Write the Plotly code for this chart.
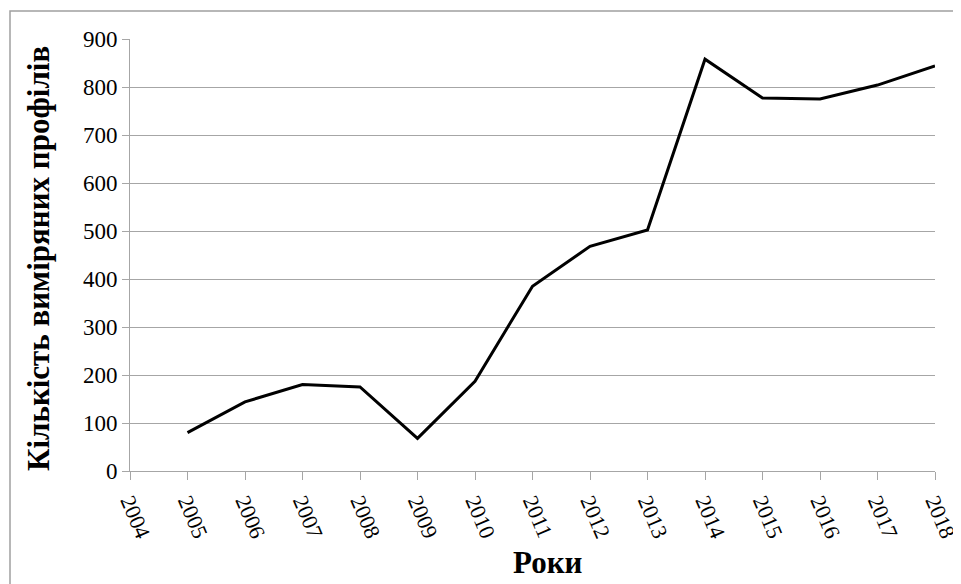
import plotly.graph_objects as go

years = [2005, 2006, 2007, 2008, 2009, 2010, 2011, 2012, 2013, 2014, 2015, 2016, 2017, 2018]
profiles = [80, 144, 180, 175, 68, 187, 385, 468, 502, 858, 777, 775, 804, 844]
x_ticks = list(range(2004, 2019))
y_ticks = list(range(0, 1000, 100))

OFF = 8  # page body margin offset
W, H = 961 - OFF, 584 - OFF
L, R, T, B = 130 - OFF, 935 - OFF, 39 - OFF, 471 - OFF

fig = go.Figure()
fig.add_trace(go.Scatter(x=years, y=profiles, mode="lines",
                         line=dict(color="black", width=3), showlegend=False))

font = "Liberation Serif, Times New Roman, serif"
grid = "#a6a6a6"

def px(x):
    return (x - OFF - L) / (R - L)

def py(y):
    return (B - (y - OFF)) / (B - T)

fig.update_layout(
    width=W, height=H,
    margin=dict(l=L, r=W - R, t=T, b=H - B, pad=0, autoexpand=False),
    paper_bgcolor="white", plot_bgcolor="white",
    font=dict(family=font, color="black", size=23),
    xaxis=dict(range=[2004, 2018], tickvals=x_ticks, ticktext=[str(v) for v in x_ticks],
               tickangle=67, showgrid=False, zeroline=False, automargin=False,
               ticklabeloverflow="allow",
               showline=True, linecolor=grid, linewidth=1,
               ticks="outside", ticklen=8, tickcolor=grid,
               tickfont=dict(family=font, size=22, color="black")),
    yaxis=dict(range=[0, 900], tickvals=y_ticks, showgrid=True, gridcolor=grid, gridwidth=1,
               zeroline=False, showline=True, linecolor=grid, linewidth=1, automargin=False,
               ticklabeloverflow="allow",
               ticks="outside", ticklen=7, tickcolor=grid,
               tickfont=dict(family=font, size=23, color="black")),
    shapes=[dict(type="rect", xref="paper", yref="paper",
                 x0=px(10), x1=px(975), y0=py(600), y1=py(11),
                 line=dict(color="#a0a0a0", width=1.5), fillcolor="rgba(0,0,0,0)", layer="below")],
    annotations=[
        dict(text="<b>Кількість виміряних профілів</b>", textangle=-90,
             xref="paper", yref="paper", x=px(38), y=py(259),
             xanchor="center", yanchor="middle", showarrow=False,
             font=dict(family=font, size=31, color="black")),
        dict(text="<b>Роки</b>", xref="paper", yref="paper",
             x=px(548), y=py(562),
             xanchor="center", yanchor="middle", showarrow=False,
             font=dict(family=font, size=31, color="black")),
    ],
)

fig.write_html("out.html")
